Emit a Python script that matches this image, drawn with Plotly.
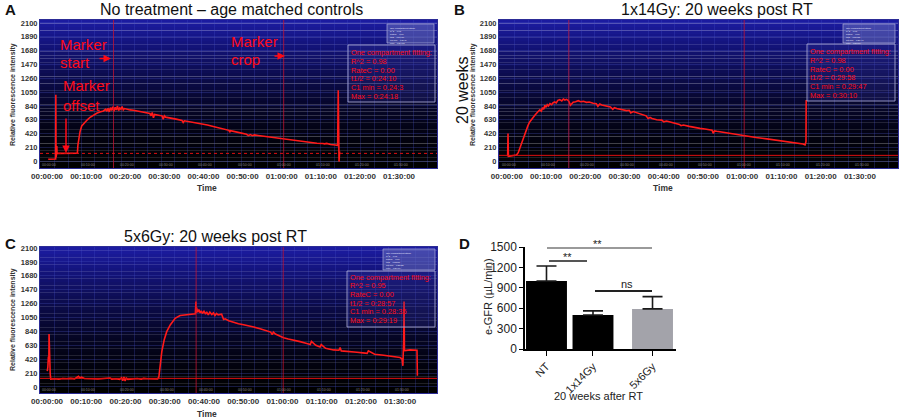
import plotly.graph_objects as go

# ---------------- data ----------------
TIME_TICKS = [0, 10, 20, 30, 40, 50, 60, 70, 80, 90]          # minutes
TIME_LABELS = ["00:00:00", "00:10:00", "00:20:00", "00:30:00", "00:40:00",
               "00:50:00", "01:00:00", "01:10:00", "01:20:00", "01:30:00"]
INTENSITY_TICKS = [0, 210, 420, 630, 840, 1050, 1260, 1470, 1680, 1890, 2100]

# Panel A: no treatment
A_TIME = [0.3, 1.0, 1.8, 2.2, 2.25, 2.3, 2.45, 2.5, 2.55, 3.5,
          5.0, 6.5, 7.76, 7.9, 8.1, 8.44, 8.87, 9.3, 9.72, 10.3,
          11.0, 11.8, 12.7, 13.5, 14.4, 15.0, 15.3, 15.6, 15.9, 16.2,
          16.5, 16.8, 17.1, 17.4, 17.7, 18.0, 18.3, 18.6, 18.9, 19.2,
          19.5, 19.8, 20.4, 21.2, 22.1, 23.0, 23.8, 24.6, 25.5, 26.3,
          26.6, 26.9, 27.2, 27.5, 28.5, 29.4, 29.7, 30.0, 30.3, 31.5,
          33.0, 34.5, 34.8, 35.1, 36.5, 38.0, 39.1, 41.0, 43.0, 45.0,
          46.5, 46.7, 46.9, 48.0, 50.0, 51.0, 51.5, 52.0, 52.5, 53.0,
          54.0, 56.2, 58.0, 60.0, 62.0, 64.7, 67.0, 69.0, 70.5, 71.0,
          71.5, 72.5, 73.7, 74.3, 74.45, 74.55, 74.65, 74.8]
A_VALUE = [30, 35, 30, 35, 1010, 60, 120, 230, 120, 120,
           122, 120, 121, 250, 330, 450, 536, 570, 592, 630,
           668, 700, 729, 748, 764, 790, 760, 805, 750, 815,
           770, 830, 760, 820, 780, 840, 770, 810, 790, 830,
           780, 800, 790, 780, 775, 765, 755, 745, 735, 725,
           690, 740, 660, 710, 700, 690, 640, 690, 670, 660,
           640, 620, 590, 615, 600, 585, 577, 550, 520, 490,
           470, 440, 465, 450, 425, 410, 390, 405, 388, 400,
           392, 375, 360, 345, 325, 300, 285, 273, 270, 265,
           272, 255, 247, 240, 1080, 240, -5, 150]
A_MARKERS = [17.0, 60.5]
A_BASELINE = 120

# Panel B: 1x14Gy
B_TIME = [0.2, 0.3, 0.4, 0.8, 1.6, 2.46, 2.9, 3.3, 3.7, 4.17,
          4.6, 5.0, 5.4, 5.87, 6.5, 7.14, 7.8, 8.4, 8.8, 9.1,
          9.4, 9.7, 10.0, 10.3, 10.6, 11.0, 11.4, 11.8, 12.2, 12.6,
          13.0, 13.5, 14.0, 14.4, 14.8, 15.2, 15.6, 15.9, 16.2, 16.5,
          16.9, 17.5, 18.2, 18.8, 19.5, 20.3, 21.0, 22.0, 22.8, 23.2,
          23.7, 24.2, 25.4, 26.4, 27.0, 27.4, 28.0, 29.0, 30.5, 31.2,
          31.6, 32.2, 33.1, 34.5, 35.5, 36.0, 36.5, 37.0, 38.2, 39.5,
          40.0, 40.7, 42.0, 43.3, 44.0, 44.4, 45.0, 46.5, 48.0, 49.2,
          50.5, 51.5, 52.3, 52.6, 52.9, 53.5, 55.0, 56.5, 57.7, 59.0,
          60.5, 62.0, 63.5, 66.3, 68.0, 69.5, 70.5, 71.5, 72.5, 73.5,
          74.7, 75.5, 76.0, 76.25, 76.3]
B_VALUE = [75, 420, 75, 80, 85, 96, 130, 200, 265, 330,
           410, 480, 545, 600, 655, 700, 745, 780, 760, 815,
           790, 850, 820, 860, 840, 875, 860, 890, 900, 885,
           925, 935, 915, 945, 930, 940, 925, 900, 850, 870,
           895, 905, 920, 905, 910, 895, 900, 880, 875, 835,
           870, 855, 840, 825, 790, 815, 800, 790, 770, 775,
           735, 755, 740, 715, 690, 650, 665, 650, 630, 625,
           600, 612, 595, 580, 560, 540, 550, 530, 510, 500,
           490, 480, 470, 425, 462, 455, 440, 425, 410, 398,
           388, 375, 362, 340, 325, 315, 305, 300, 290, 282,
           275, 262, 248, 300, 930]
B_MARKERS = [15.8, 60.5]
B_BASELINE = 90

# Panel C: 5x6Gy
C_TIME = [0.05, 0.2, 0.34, 0.45, 0.51, 0.6, 0.68, 0.8, 0.94, 2.0,
          3.0, 4.0, 5.0, 6.0, 7.0, 7.6, 8.0, 8.4, 8.8, 9.5,
          10.5, 11.8, 13.0, 14.5, 16.1, 16.5, 17.5, 18.5, 19.0, 19.3,
          19.6, 19.9, 20.2, 20.6, 22.0, 23.0, 24.0, 24.6, 25.5, 26.5,
          27.5, 28.2, 28.5, 28.83, 29.25, 29.85, 30.5, 31.4, 32.65, 33.9,
          35.6, 37.0, 37.8, 37.95, 38.0, 38.1, 38.4, 38.7, 39.0, 39.3,
          39.6, 40.0, 40.4, 40.7, 41.1, 41.5, 42.0, 42.4, 42.8, 43.2,
          43.6, 44.1, 44.5, 45.0, 45.4, 46.3, 47.5, 48.8, 50.1, 51.4,
          52.7, 54.3, 56.0, 57.0, 57.4, 57.7, 58.2, 59.0, 60.3, 61.5,
          62.8, 64.5, 66.0, 67.1, 67.4, 68.5, 69.6, 69.9, 71.0, 73.0,
          74.4, 74.7, 75.0, 77.3, 79.0, 80.5, 81.6, 81.9, 83.5, 85.8,
          87.5, 89.0, 90.0, 90.5, 90.7, 90.9, 91.0, 91.1, 91.2, 92.5,
          94.3, 94.4]
C_VALUE = [240, 300, 460, 380, 800, 420, 280, 200, 120, 125,
           118, 128, 125, 130, 122, 140, 160, 135, 150, 128,
           125, 125, 120, 128, 135, 118, 125, 115, 140, 95,
           150, 90, 135, 115, 125, 128, 118, 130, 125, 120,
           118, 122, 150, 357, 534, 710, 836, 937, 1037, 1080,
           1095, 1100, 1105, 1290, 1120, 1200, 1130, 1170, 1120, 1150,
           1110, 1145, 1100, 1135, 1090, 1130, 1095, 1120, 1080, 1110,
           1090, 1095, 1100, 1020, 1030, 1000, 975, 955, 940, 925,
           905, 880, 855, 830, 790, 830, 800, 775, 745, 725,
           710, 685, 660, 640, 690, 630, 605, 640, 585, 560,
           555, 595, 545, 540, 525, 515, 508, 545, 495, 480,
           470, 455, 445, 420, 320, 700, 1290, 560, 550, 560,
           555, 170]
C_MARKERS = [38.0, 60.2]
C_BASELINE = 130

FIT_A = ["One compartment fitting:", "R^2 = 0.98", "RateC = 0.00",
         "t1/2 = 0:24:10", "C1 min = 0.24:3", "Max = 0:24:18"]
FIT_B = ["One compartment fitting:", "R^2 = 0.98", "RateC = 0.00",
         "t1/2 = 0:29:58", "C1 min = 0.29:47", "Max = 0:30:10"]
FIT_C = ["One compartment fitting:", "R^2 = 0.95", "RateC = 0.00",
         "t1/2 = 0:28:57", "C1 min = 0.28:35", "Max = 0:29:19"]

# Panel D: e-GFR
GFR_GROUPS = ["NT", "1x14Gy", "5x6Gy"]
GFR_MEAN = [1000, 500, 590]
GFR_ERR = [220, 60, 180]
GFR_TICKS = [0, 300, 600, 900, 1200, 1500]

# ---------------- layout helpers ----------------
W, H = 900, 420
def fx(p): return p / W
def fy(p): return 1 - p / H

FONT = "Liberation Sans, Arial, Helvetica, sans-serif"
RED = "#ff1a1a"
TXT_RED = "#ff0a16"

fig = go.Figure()
shapes, annotations = [], []
layout = dict(width=W, height=H, margin=dict(l=0, r=0, t=0, b=0),
              paper_bgcolor="white", plot_bgcolor="white", showlegend=False,
              font=dict(family=FONT, color="#222"))

def ann(x, y, text, size=10, color="#222", xanchor="center", yanchor="middle",
        angle=0, bold=False, family=FONT, **kw):
    annotations.append(dict(x=fx(x), y=fy(y), xref="paper", yref="paper", text=text,
                            showarrow=False, xanchor=xanchor, yanchor=yanchor,
                            textangle=angle,
                            font=dict(size=size, color=color, family=family,
                                      weight="bold" if bold else "normal"), **kw))

def band_color(f):
    r = int(2 + 26 * f ** 1.8)
    b = int(6 + 158 * f ** 1.55)
    return f"rgb({r},{r},{b})"

panels = [
    dict(sfx="", t=A_TIME, v=A_VALUE, mk=A_MARKERS, base=A_BASELINE, dash="dot",
         xd=(40, 437), yd=(20, 168), xr=(-1.8, 99.7), yr=(-102, 2145)),
    dict(sfx="2", t=B_TIME, v=B_VALUE, mk=B_MARKERS, base=B_BASELINE, dash="solid",
         xd=(499, 898), yd=(20, 168), xr=(-2.0, 99.7), yr=(-102, 2145)),
    dict(sfx="3", t=C_TIME, v=C_VALUE, mk=C_MARKERS, base=C_BASELINE, dash="solid",
         xd=(40, 437), yd=(247, 393), xr=(-1.8, 99.4), yr=(-91, 2115)),
]

grid_x = [2.0 + 3.4 * k for k in range(30)]

for p in panels:
    xa, ya = "x" + p["sfx"], "y" + p["sfx"]
    layout["xaxis" + p["sfx"]] = dict(
        domain=[fx(p["xd"][0]), fx(p["xd"][1])], range=list(p["xr"]), anchor=ya,
        tickmode="array", tickvals=TIME_TICKS, ticktext=TIME_LABELS,
        tickfont=dict(size=8, color="#333", weight="bold"), ticks="",
        showgrid=False, zeroline=False, showline=True, mirror=True,
        linecolor="#2c2c96", linewidth=1,
        minor=dict(tickmode="array", tickvals=grid_x, showgrid=True,
                   gridcolor="rgba(70,80,200,0.28)", gridwidth=1, ticks=""),
        fixedrange=True, automargin=False)
    layout["yaxis" + p["sfx"]] = dict(
        domain=[fy(p["yd"][1]), fy(p["yd"][0])], range=list(p["yr"]), anchor=xa,
        tickmode="array", tickvals=INTENSITY_TICKS,
        tickfont=dict(size=7.5, color="#333", weight="bold"), ticks="",
        showgrid=True, gridcolor="rgba(70,80,190,0.32)", gridwidth=1,
        zeroline=False, showline=True, mirror=True, linecolor="#2c2c96",
        fixedrange=True, automargin=False)
    # gradient background (blue -> black) and black tick strip
    y0, y1 = p["yr"]
    shapes.append(dict(type="rect", xref=xa + " domain", yref=ya, x0=0, x1=1,
                       y0=y0, y1=0, fillcolor="black", line=dict(width=0), layer="below"))
    nb = 40
    for i in range(nb):
        a = y1 * i / nb
        b = y1 * (i + 1) / nb
        shapes.append(dict(type="rect", xref=xa + " domain", yref=ya, x0=0, x1=1,
                           y0=a, y1=b + 2, fillcolor=band_color((i + 0.5) / nb),
                           line=dict(width=0), layer="below"))
    # marker lines
    for m in p["mk"]:
        shapes.append(dict(type="line", xref=xa, yref=ya + " domain", x0=m, x1=m,
                           y0=0, y1=1, line=dict(color="rgba(200,20,50,0.75)", width=1)))
    shapes.append(dict(type="line", xref=xa + " domain", yref=ya, x0=0, x1=1,
                       y0=p["base"], y1=p["base"],
                       line=dict(color="#e01010", width=1, dash=p["dash"])))
    # tiny strip labels
    for tv, tl in zip(TIME_TICKS, TIME_LABELS):
        annotations.append(dict(x=tv + 0.5, y=y0 * 0.5, xref=xa, yref=ya, text=tl,
                                showarrow=False, font=dict(size=3.5, color="#8a8a8a")))
    fig.add_trace(go.Scatter(x=p["t"], y=p["v"], mode="lines", xaxis=xa, yaxis=ya,
                             line=dict(color=RED, width=1.6), hoverinfo="skip"))

# fit boxes
boxes = [
    dict(r=(348, 435, 45, 102), s=(387, 434, 24, 43), tx=350, ty=52.7, dy=8.7, lines=FIT_A),
    dict(r=(807, 895, 44, 101), s=(843, 895, 24, 43), tx=809, ty=51.5, dy=8.8, lines=FIT_B),
    dict(r=(347, 435, 271, 327), s=(383, 435, 249, 270), tx=349, ty=277, dy=8.7, lines=FIT_C),
]
for bx in boxes:
    x0, x1, y0, y1 = bx["r"]
    shapes.append(dict(type="rect", xref="paper", yref="paper", x0=fx(x0), x1=fx(x1),
                       y0=fy(y1), y1=fy(y0), fillcolor="rgba(60,60,160,0.2)",
                       line=dict(color="rgba(170,170,215,0.85)", width=1)))
    sx0, sx1, sy0, sy1 = bx["s"]
    shapes.append(dict(type="rect", xref="paper", yref="paper", x0=fx(sx0), x1=fx(sx1),
                       y0=fy(sy1), y1=fy(sy0), fillcolor="rgba(110,115,190,0.5)",
                       line=dict(color="rgba(170,170,215,0.7)", width=1)))
    for i, line in enumerate(bx["lines"]):
        ann(bx["tx"], bx["ty"] + i * bx["dy"], line, size=7.4, color=TXT_RED,
            xanchor="left", borderpad=0)
    tiny = "<br>".join(bx["lines"])
    ann(sx0 + 2, sy0 + 1.5, tiny, size=2.3, color="#e8e8ff", xanchor="left",
        yanchor="top", align="left", borderpad=0)

# ---------------- panel D ----------------
d_pos = [0, 1, 2.28]
fig.add_trace(go.Bar(x=d_pos, y=GFR_MEAN, width=0.88, xaxis="x4", yaxis="y4",
                     marker=dict(color=["#000000", "#000000", "#a3a3aa"], line=dict(width=0)),
                     error_y=dict(type="data", array=GFR_ERR, arrayminus=[0, 0, 0],
                                  symmetric=False, color="#1a1a1a", thickness=1.6, width=10),
                     hoverinfo="skip"))
layout["xaxis4"] = dict(domain=[fx(525), fx(676)], range=[-0.462, 2.785], anchor="y4",
                        tickmode="array", tickvals=d_pos, ticktext=GFR_GROUPS, tickangle=-45,
                        tickfont=dict(size=11, color="#222"), ticks="outside", ticklen=5,
                        tickcolor="black", showline=True, linecolor="black", linewidth=1.5,
                        showgrid=False, zeroline=False, fixedrange=True, automargin=False)
layout["yaxis4"] = dict(domain=[fy(349), fy(247)], range=[0, 1500], anchor="x4",
                        tickmode="array", tickvals=GFR_TICKS,
                        tickfont=dict(size=12, color="#222"), ticks="outside", ticklen=4,
                        tickcolor="black", showline=True, linecolor="black", linewidth=1.5,
                        showgrid=False, zeroline=False, fixedrange=True, automargin=False)

# significance brackets
for (xa_, xb_, yy, col) in [(547, 652, 248, "#9a9a9a"), (549, 587, 261, "#555555"),
                            (595, 652, 291, "#222222")]:
    shapes.append(dict(type="line", xref="paper", yref="paper", x0=fx(xa_), x1=fx(xb_),
                       y0=fy(yy), y1=fy(yy), line=dict(color=col, width=2)))
ann(597, 244, "**", size=11)
ann(567, 257, "**", size=11)
ann(627, 284, "ns", size=11)
ann(598, 396, "20 weeks after RT", size=11)
ann(488, 297, "e-GFR (µL/min)", size=11, angle=-90)

# ---------------- texts ----------------
ann(10, 9, "A", size=15, bold=True, color="#111")
ann(460, 9, "B", size=15, bold=True, color="#111")
ann(10, 243, "C", size=15, bold=True, color="#111")
ann(464, 243, "D", size=15, bold=True, color="#111")
ann(231, 9, "No treatment – age matched controls", size=16, color="#111")
ann(717, 9, "1x14Gy: 20 weeks post RT", size=16, color="#111")
ann(215, 236, "5x6Gy: 20 weeks post RT", size=16, color="#111")
ann(462, 90, "20 weeks", size=16, angle=-90, color="#111")

for (x, y) in [(13, 95), (473, 95), (13, 320)]:
    ann(x, y, "Relative fluorescence intensity", size=7, angle=-90, bold=True, color="#333")
for (x, y) in [(207, 188), (663, 188), (207, 414)]:
    ann(x, y, "Time", size=8.5, bold=True, color="#333")

# red marker labels in A
ann(58, 45, "Marker", size=15, color=TXT_RED, xanchor="left")
ann(58, 62, "start", size=15, color=TXT_RED, xanchor="left")
ann(61, 86, "Marker", size=15, color=TXT_RED, xanchor="left")
ann(61, 105, "offset", size=15, color=TXT_RED, xanchor="left")
ann(229, 42, "Marker", size=15, color=TXT_RED, xanchor="left")
ann(229, 60, "crop", size=15, color=TXT_RED, xanchor="left")
for (hx, hy, axp, ayp) in [(111, 58.5, -13, 0), (285, 56, -12, 0), (66, 153, 0, -36)]:
    annotations.append(dict(x=fx(hx), y=fy(hy), xref="paper", yref="paper", text="",
                            showarrow=True, ax=axp, ay=ayp, arrowhead=2, arrowsize=1,
                            arrowwidth=1.5, arrowcolor=TXT_RED))

layout["shapes"] = shapes
layout["annotations"] = annotations
fig.update_layout(**layout)
fig.write_html("out.html", config={"displayModeBar": False},
               post_script="document.body.style.margin='0';document.body.style.padding='0';")
